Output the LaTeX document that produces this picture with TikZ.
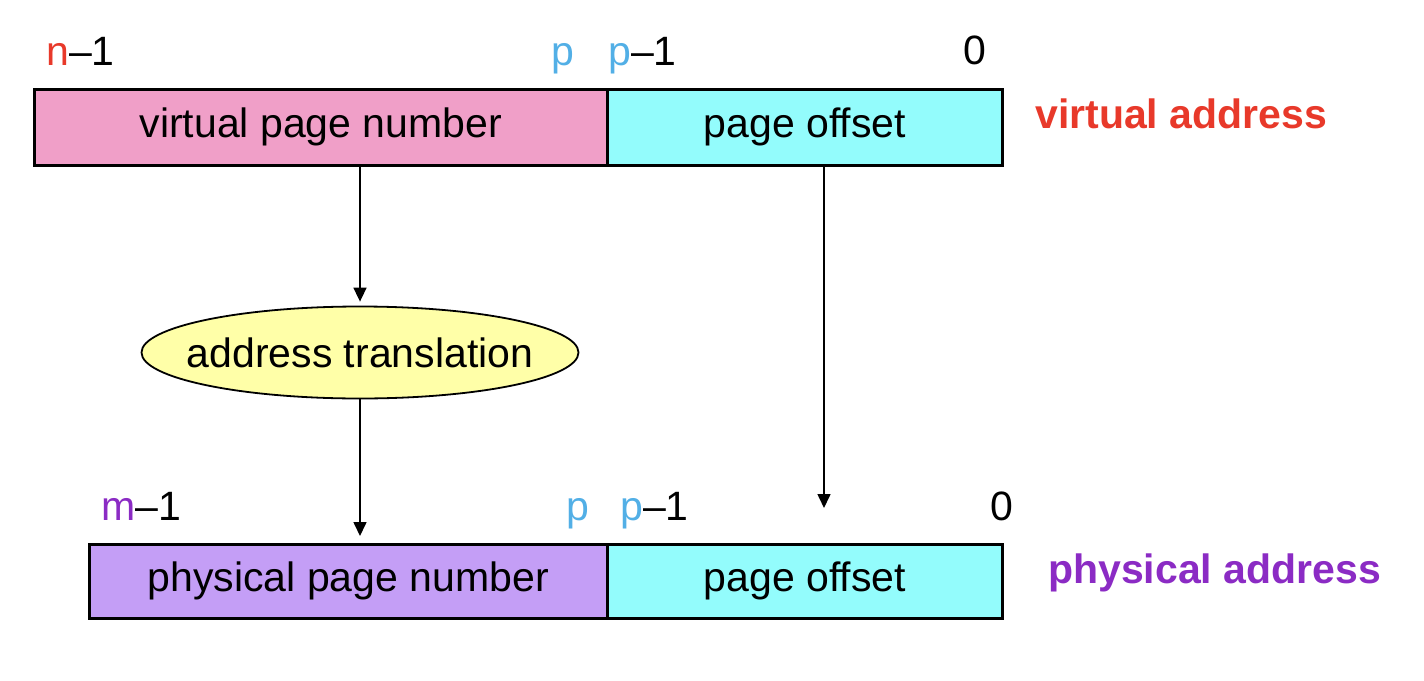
\documentclass[tikz,border=0pt]{standalone}
\usepackage{fontspec}
\setmainfont{Liberation Sans}
\usetikzlibrary{shapes.geometric,arrows.meta}
\definecolor{vpnpink}{HTML}{F09FC8}
\definecolor{offcyan}{HTML}{93FCFC}
\definecolor{ppnpurple}{HTML}{C49EF6}
\definecolor{xlatyellow}{HTML}{FFFFA8}
\definecolor{lblred}{HTML}{E8392A}
\definecolor{lblblue}{HTML}{52AFE6}
\definecolor{lblpurple}{HTML}{8B2BC4}
\begin{document}
\begin{tikzpicture}[x=1pt,y=-1pt,
  every node/.style={font=\fontsize{41}{49}\selectfont},
  field/.style={draw=black,line width=2.5pt,rectangle,inner sep=0pt,anchor=north west},
  bitlbl/.style={anchor=base west,inner sep=0pt},
  addrlbl/.style={anchor=base west,inner sep=0pt,font=\fontsize{41}{49}\selectfont\bfseries},
  arr/.style={line width=1.6pt,-{Triangle[width=13pt,length=14pt]}}]
\useasboundingbox (0,0) rectangle (1424,680);
% top: virtual address
\node[field,fill=vpnpink,minimum width=573pt,minimum height=76pt] (vpn) at (33,88) {virtual page number};
\node[field,fill=offcyan,minimum width=395pt,minimum height=76pt] (voff) at (606,88) {page offset};
% bottom: physical address
\node[field,fill=ppnpurple,minimum width=518pt,minimum height=74pt] (ppn) at (88,543) {physical page number};
\node[field,fill=offcyan,minimum width=395pt,minimum height=74pt] (poff) at (606,543) {page offset};
% bit labels
\node[bitlbl] (tn) at (46,65) {\textcolor{lblred}{n}–1};
\node[bitlbl] (tp) at (551,65) {\textcolor{lblblue}{p}};
\node[bitlbl] (tp1) at (608,65) {\textcolor{lblblue}{p}–1};
\node[bitlbl] (t0) at (963,64) {0};
\node[bitlbl] (bm) at (101,520) {\textcolor{lblpurple}{m}–1};
\node[bitlbl] (bp) at (566,520) {\textcolor{lblblue}{p}};
\node[bitlbl] (bp1) at (620,520) {\textcolor{lblblue}{p}–1};
\node[bitlbl] (b0) at (990,520) {0};
% address names
\node[addrlbl,text=lblred] (va) at (1035,128) {virtual address};
\node[addrlbl,text=lblpurple] (pa) at (1048,583) {physical address};
% translation
\node[ellipse,draw=black,line width=1.8pt,fill=xlatyellow,minimum width=437pt,minimum height=92pt,inner sep=0pt] (xlat) at (360,352.5) {};
\node[inner sep=0pt] (xlattxt) at (xlat.center) {address translation};
\coordinate (offend) at (824,508);
% connectors
\draw[arr,shorten >=4pt] (vpn.south -| xlat.north) -- (xlat.north);
\draw[arr,shorten >=7pt] (xlat.south) -- (ppn.north -| xlat.south);
\draw[arr] (voff.south -| offend) -- (offend);
\end{tikzpicture}
\end{document}
